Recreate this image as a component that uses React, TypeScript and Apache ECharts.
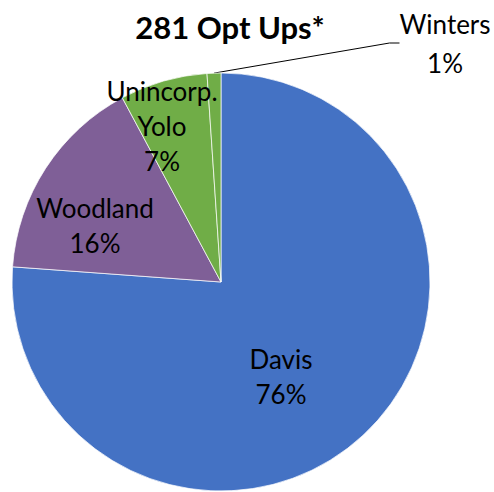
import React, { useEffect, useRef } from "react";
import * as echarts from "echarts";

const titleText = "281 Opt Ups*";
const categories = ["Davis", "Woodland", "Unincorp.\nYolo", "Winters"];
const counts = [214, 45, 19, 3];
const percentLabels = ["76%", "16%", "7%", "1%"];
const colors = ["#4472C4", "#7F5F97", "#70AD47", "#70AD47"];

// label anchor positions (layout only)
const labelPos = [
  { x: 281, y: 376 },
  { x: 95, y: 225 },
  { x: 162, y: 126 },
  { x: 445, y: 43 },
];

export default function App() {
  const ref = useRef<HTMLDivElement>(null);
  useEffect(() => {
    if (!ref.current) return;
    const chart = echarts.init(ref.current, null, { renderer: "svg" });
    const font = "Lato, 'Open Sans', sans-serif";
    chart.setOption({
      animation: false,
      backgroundColor: "#ffffff",
      title: {
        text: titleText,
        left: 225,
        top: 6,
        textAlign: "center",
        textStyle: { fontFamily: font, fontWeight: "bold", fontSize: 31, color: "#000" },
      },
      series: [
        {
          type: "pie",
          center: [221, 282],
          radius: [0, 209],
          startAngle: 90,
          clockwise: true,
          avoidLabelOverlap: false,
          itemStyle: { borderColor: "rgba(255,255,255,0.7)", borderWidth: 1 },
          data: categories.map((c, i) => ({
            name: c,
            value: counts[i],
            itemStyle: { color: colors[i] },
            label: {
              show: true,
              position: i === 3 ? "outside" : "inside",
              formatter: c + "\n" + percentLabels[i],
              fontFamily: font,
              fontSize: 26,
              lineHeight: i === 3 ? 39 : 35,
              color: "#000",
              align: "center",
            },
            labelLine: i === 3
              ? { show: true, length: 20, length2: 10, lineStyle: { color: "#000", width: 1 } }
              : { show: false },
          })),
          labelLayout: (params: any) => {
            const p = labelPos[params.dataIndex];
            return { x: p.x, y: p.y, align: "center", verticalAlign: "middle" };
          },
        },
      ],
    });
    return () => chart.dispose();
  }, []);
  return (
    <div
      ref={ref}
      style={{ position: "fixed", left: 0, top: 0, width: 494, height: 492 }}
    />
  );
}
